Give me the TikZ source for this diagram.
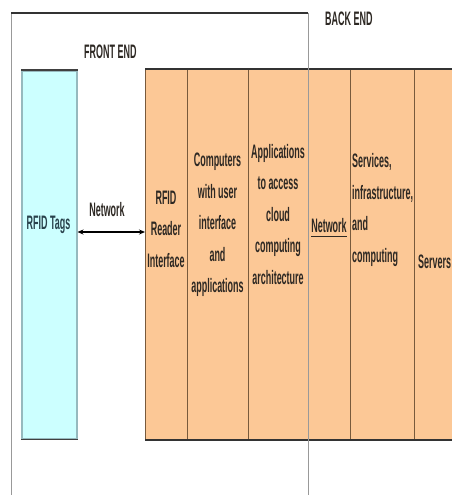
\documentclass[tikz,border=0pt]{standalone}
\usepackage{fontspec}
\newfontfamily\nf[FakeStretch=0.46]{Liberation Sans Bold}
\usetikzlibrary{arrows.meta,calc}
\definecolor{peach}{RGB}{252,200,150}
\definecolor{lcyan}{RGB}{204,255,255}
\definecolor{divc}{RGB}{120,90,60}
\definecolor{tagside}{RGB}{150,185,190}
\definecolor{ink}{RGB}{45,40,35}
\definecolor{tagink}{RGB}{40,65,75}
\begin{document}
\begin{tikzpicture}[x=1pt,y=1pt,
  col/.style={draw=divc, line width=1pt, fill=peach, minimum height=370pt, inner sep=0pt, anchor=north west},
  txt/.style={font=\nf\fontsize{19.5}{31.5}\selectfont, text=ink, inner sep=0pt, align=center},
  ltxt/.style={font=\nf\fontsize{19.5}{31.5}\selectfont, text=ink, inner sep=0pt, align=left},
  frame/.style={draw=black!40, line width=1pt}]
\useasboundingbox (0,0) rectangle (451,-495);
% orange back-end block columns
\node[col, minimum width=42pt] (reader) at (145,-69) {};
\node[col, minimum width=61pt] (comp) at (187,-69) {};
\node[col, minimum width=60pt] (apps) at (248,-69) {};
\node[col, minimum width=42pt] (net) at (308,-69) {};
\node[col, minimum width=64pt] (serv) at (350,-69) {};
\node[col, minimum width=50pt] (srv) at (414,-69) {};
\draw[black!80, line width=1.3pt] (reader.north west) -- (srv.north east);
\draw[black!80, line width=1.3pt] (reader.south west) -- (srv.south east);
% RFID tags box
\node[draw=tagside, line width=1.5pt, fill=lcyan, minimum width=55pt, minimum height=368pt, anchor=north west, inner sep=0pt] (tags) at (21,-70) {};
\draw[black!75, line width=1.3pt] (tags.north west) -- (tags.north east);
\draw[black!75, line width=1.3pt] (tags.south west) -- (tags.south east);
% frame
\coordinate (fl) at (11,-13);
\coordinate (fr) at (308,-13);
\coordinate (flb) at (11,-500);
\coordinate (frb) at (308,-500);
\draw[frame] (fl) -- (flb);
\draw[frame] (fr) -- (frb);
\draw[black!80, line width=1.2pt] (fl) -- (fr);
% labels
\node[txt, anchor=west] (backlbl) at (325,-19) {BACK END};
\node[txt, anchor=west] (frontlbl) at (84,-52) {FRONT END};
\node[txt, text=tagink] (tagstxt) at (48.5,-225) {RFID Tags};
\node[txt] (netlbl) at (107,-210) {Network};
\node[txt] (readertxt) at (166,-229) {RFID\\Reader\\Interface};
\node[txt] (comptxt) at (217.5,-225) {Computers\\with user\\interface\\and\\applications};
\node[txt] (appstxt) at (278,-214.5) {Applications\\to access\\cloud\\computing\\architecture};
\node[txt] (nettxt) at (329,-226) {Network};
\draw[ink, line width=1pt] ($(nettxt.south west)+(0,-3)$) -- ($(nettxt.south east)+(0,-3)$);
\node[ltxt, anchor=west] (servtxt) at (352,-210) {Services,\\infrastructure,\\and\\computing};
\node[txt, anchor=west] (srvtxt) at (418,-262) {Servers};
% connector
\coordinate (arry) at (0,-232);
\draw[black, line width=1.2pt, {Stealth[length=6pt,width=5pt]}-{Stealth[length=6pt,width=5pt]}] (tags.east |- arry) -- (reader.west |- arry);
\end{tikzpicture}
\end{document}
